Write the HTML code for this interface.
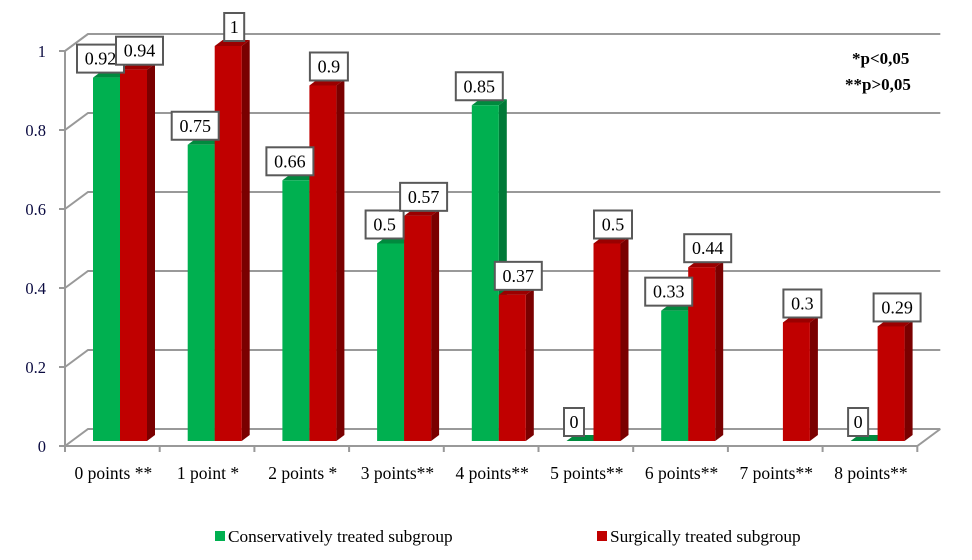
<!DOCTYPE html>
<html><head><meta charset="utf-8"><style>
html,body{margin:0;padding:0;background:#fff;}
svg{display:block;font-family:"Liberation Serif",serif;}
</style></head><body>
<svg id="chart" width="972" height="560" viewBox="0 0 972 560" xmlns="http://www.w3.org/2000/svg">
<g id="grid"></g>
<g id="axis"></g>
<g id="bars"></g>
<g id="labels"></g>
<text x="852" y="64" font-size="17" font-weight="bold">*p&lt;0,05</text>
<text x="845" y="90" font-size="17" font-weight="bold">**p&gt;0,05</text>
<g>
<rect x="215" y="531" width="10" height="10" fill="#00B050"/>
<text x="228" y="542" font-size="17.3">Conservatively treated subgroup</text>
<rect x="597" y="531" width="10" height="10" fill="#C00000"/>
<text x="610" y="542" font-size="17.3">Surgically treated subgroup</text>
</g>
</svg>
<script>
const categories=["0 points **","1 point *","2 points *","3 points**","4 points**","5 points**","6 points**","7 points**","8 points**"];
const conservative=[0.92,0.75,0.66,0.5,0.85,0,0.33,null,0];
const surgical=[0.94,1,0.9,0.57,0.37,0.5,0.44,0.3,0.29];
const yTicks=[0,0.2,0.4,0.6,0.8,1];
const yTickLabels=["0","0.2","0.4","0.6","0.8","1"];

const NS="http://www.w3.org/2000/svg";
const X0=65,CW=94.7,FY0=446,SC=395,DX=23,DY=-17,BY0=441;
function fy(v){return FY0-v*SC;}
function by(v){return BY0-v*SC;}
function cx(i){return X0+i*CW;}
function mk(tag,attrs,parent){const e=document.createElementNS(NS,tag);for(const k in attrs)e.setAttribute(k,attrs[k]);parent.appendChild(e);return e;}
const grid=document.getElementById('grid'),axis=document.getElementById('axis'),bars=document.getElementById('bars'),labels=document.getElementById('labels');
const XR=X0+categories.length*CW;
let w=mk('polyline',{points:`${X0},${fy(0)} ${X0},${fy(1)} ${X0+DX},${fy(1)+DY}`,fill:'none',stroke:'#999','stroke-width':2},grid);

yTicks.forEach((t,i)=>{
 const y=fy(t);
 let l=mk('polyline',{points:`${X0},${y} ${X0+DX},${y+DY} ${XR+DX},${y+DY}`,fill:'none',stroke:'#999','stroke-width':2},grid);
 
 let tk=mk('line',{x1:X0-6,y1:y,x2:X0,y2:y,stroke:'#999','stroke-width':2},axis);
 
 let tx=mk('text',{x:46,y:y+6,'font-size':16.5,'text-anchor':'end',fill:'#0a0a40'},axis);
 tx.textContent=yTickLabels[i];
 
});
let fl=mk('polyline',{points:`${X0},${fy(0)} ${XR},${fy(0)} ${XR+DX},${fy(0)+DY}`,fill:'none',stroke:'#999','stroke-width':2},grid);

for(let i=0;i<=categories.length;i++){
 let tk=mk('line',{x1:cx(i),y1:fy(0),x2:cx(i),y2:fy(0)+6,stroke:'#999','stroke-width':2},axis);
 
}
categories.forEach((c,i)=>{
 let t=mk('text',{x:cx(i)+CW/2+1,y:479,'font-size':17.5,'text-anchor':'middle',fill:'#000'},axis);
 t.textContent=c;
 
});
const BW=27,SD=8,SDY=-6;
function bar(x,v,front,side,top,name){
 const g=mk('g',{},bars);
 
 const yt=by(v);
 mk('polygon',{points:`${x+BW},${BY0} ${x+BW+SD},${BY0+SDY} ${x+BW+SD},${yt+SDY} ${x+BW},${yt}`,fill:side},g);
 mk('polygon',{points:`${x},${yt} ${x+SD},${yt+SDY} ${x+BW+SD},${yt+SDY} ${x+BW},${yt}`,fill:top},g);
 if(v>0)mk('rect',{x:x,y:yt,width:BW,height:BY0-yt,fill:front},g);
}
function label(x,v){
 const s=String(v);
 const wdt=s.length*9+11;
 const yb=by(v)-5;
 const g=mk('g',{},labels);
 
 mk('rect',{x:x-wdt/2,y:yb-28,width:wdt,height:28,fill:'#fff',stroke:'#595959','stroke-width':2},g);
 const t=mk('text',{x:x,y:yb-8,'font-size':18,'text-anchor':'middle',fill:'#000'},g);
 t.textContent=s;
}
categories.forEach((c,i)=>{
 const gx=cx(i)+28,rx=gx+BW;
 if(conservative[i]!==null)bar(gx,conservative[i],'#00B050','#007A38','#008A3E','bar-conservative');
 bar(rx,surgical[i],'#C00000','#7A0000','#9A0000','bar-surgical');
});
categories.forEach((c,i)=>{
 const gx=cx(i)+28,rx=gx+BW;
 if(conservative[i]!==null)label(gx+BW/2-6,conservative[i]);
 label(rx+BW/2+6,surgical[i]);
});
</script>
</body></html>
